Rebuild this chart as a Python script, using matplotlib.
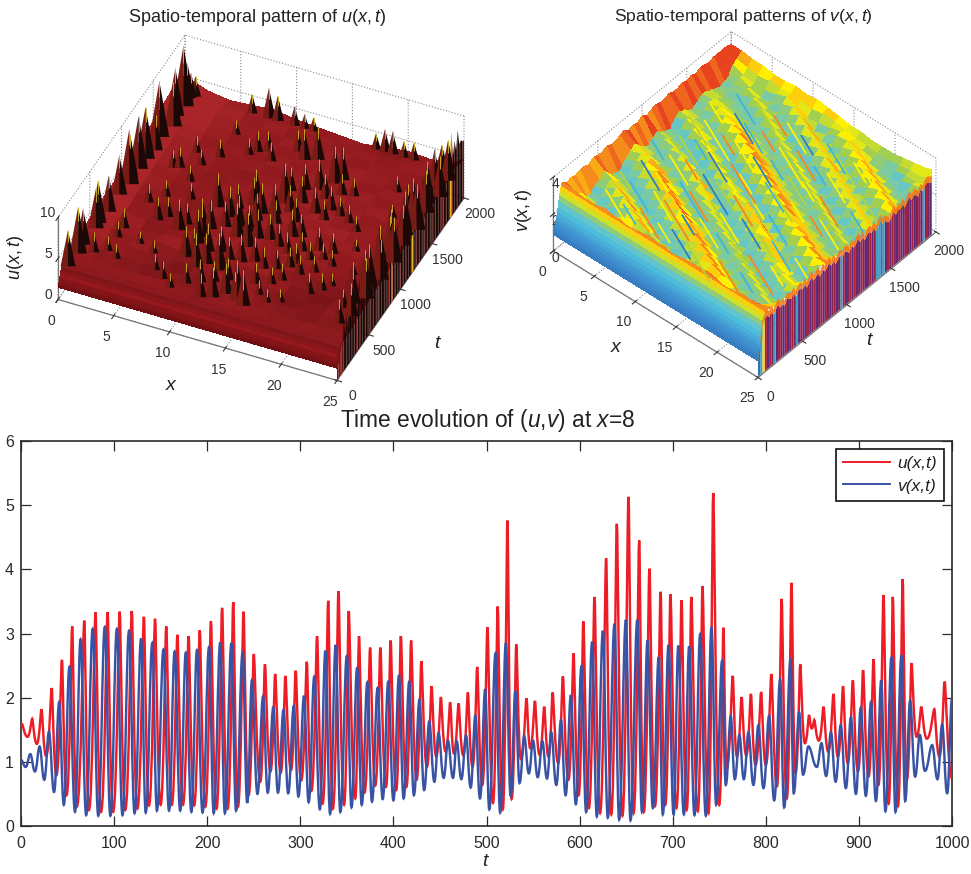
import numpy as np
import matplotlib
matplotlib.use("Agg")
import matplotlib.pyplot as plt
from matplotlib.colors import LinearSegmentedColormap, Normalize
from matplotlib.lines import Line2D
from matplotlib.path import Path
from matplotlib.patches import PathPatch
from mpl_toolkits.mplot3d.art3d import Poly3DCollection, Line3DCollection

plt.rcParams['font.family'] = ['Liberation Sans', 'DejaVu Sans']
plt.rcParams['mathtext.fontset'] = 'custom'
plt.rcParams['mathtext.rm'] = 'Liberation Sans'
plt.rcParams['mathtext.it'] = 'Liberation Sans:italic'
plt.rcParams['mathtext.default'] = 'regular'

# ---------- time series at x=8: extrema ----------
u_peak_t = [1,12,22,33,44,55,68,80,93,106,119,132,144,156,168,180,192,204,216,228,239,250,262,273,284,295,307,318,330,341,352,363,375,386,397,408,419,430,441,451,461,470,480,490,501,512,522.5,532,543,552,562,571,582,593.5,604,616,628.5,640,652.5,664,675,687,697.6,709.5,720,732,743.5,754.5,764.5,774,784,795,806,817,827.6,837,846.5,852,862,872.7,883,893.5,904.5,915.7,926.4,936.4,947,956.5,967,981,992]
u_peak_v = [1.59,1.67,1.82,2.15,2.59,3.11,3.2,3.33,3.33,3.34,3.35,3.26,3.23,3.11,2.98,2.96,3.05,3.19,3.4,3.49,3.34,2.68,2.52,2.37,2.34,2.42,2.56,2.96,3.51,3.66,3.35,2.96,2.78,2.78,2.89,2.96,2.89,2.57,2.18,2.01,1.93,1.91,2.08,2.48,3.1,3.42,4.76,2.83,1.99,1.95,1.86,2.08,2.33,2.69,3.19,3.57,4.17,4.71,5.13,4.45,4.01,3.65,3.61,3.52,3.57,3.74,5.19,3.09,2.34,2.01,2.06,2.09,2.37,3.54,3.79,2.52,1.73,1.65,1.86,2.06,2.18,2.27,2.43,2.6,3.6,3.57,3.85,2.54,1.86,1.82,2.25]
u_low_t = [0,7,17,27,38,49,60,73,86,99,112,125,137.5,150,162,174,186,198,210,222,233,244.5,257,268,279,290,301,312,324,335,347,359,369,380.5,392,403,414,425,436,446,456,465,475,485,495.5,507,517.5,527,537,547,557,566.6,577,588,599,610,622,634,646,658,669,681,692,704,715,727,738.5,750,758,769,779,789,800,812,822.6,832,842,849.4,857,867,877.4,888,899,910.4,921,932,942,951.5,962,973,986.5,1000]
u_low_v = [1.55,1.39,1.28,1.09,0.79,0.48,0.3,0.25,0.22,0.22,0.25,0.27,0.32,0.33,0.33,0.33,0.32,0.3,0.27,0.27,0.3,0.48,0.69,0.85,0.83,0.87,0.71,0.55,0.35,0.27,0.33,0.43,0.52,0.63,0.61,0.56,0.61,0.72,0.92,1.08,1.16,1.13,1.1,0.92,0.64,0.36,0.26,0.42,1.04,1.21,1.11,1.08,0.98,0.72,0.48,0.28,0.2,0.18,0.16,0.2,0.22,0.31,0.33,0.28,0.25,0.23,0.2,0.33,0.9,1.08,1.1,0.95,0.95,0.62,0.43,0.82,1.29,1.52,1.33,1.16,1.08,0.98,0.85,0.77,0.64,0.35,0.31,0.72,1.39,1.36,1.08,0.74]
v_peak_t = [10,20,30,41,52,64,77,90,103,116,129,141,153,165,177,189,202,214,226,238,248,260,271,282,293,304,315,327,338,350,361,372,383,394.5,406,417,428,438.5,448.5,458.6,468,478,488,498.6,509.7,520.8,531,540.5,550,560,569.5,580,590.6,602,613.5,625,637.5,649.7,662,673,685,695.5,706,717.7,729.5,741.7,753,762.4,771.7,781.4,792,803.6,815.4,826.5,835.8,845.8,859.8,870,880.5,891.4,902,913,924,935,945.7,955,965.4,978.7,989.4,1000]
v_peak_v = [1.12,1.24,1.47,1.93,2.48,2.91,3.07,3.1,3.07,3.04,2.92,2.85,2.75,2.72,2.7,2.74,2.79,2.86,2.85,2.7,2.27,2.02,1.85,1.81,1.87,2.03,2.33,2.73,2.82,2.65,2.46,2.24,2.15,2.25,2.34,2.25,1.97,1.63,1.45,1.33,1.32,1.41,1.72,2.13,2.69,2.85,2.1,1.4,1.33,1.32,1.46,1.65,2.04,2.49,2.87,3.04,3.15,3.21,3.21,2.89,2.63,2.82,2.81,2.8,2.99,3.1,2.57,1.71,1.42,1.46,1.57,1.72,2.28,2.59,1.77,1.24,1.29,1.46,1.57,1.69,1.84,1.93,2.27,2.63,2.66,1.95,1.42,1.26,1.58,1.99]
v_low_t = [0,5,15,25,35.5,46,58,70,83,96,109,122,134,146,159,171,183,195,207,219,231,243,254,265,276,287,298,309,321,332,343,355,366,377,388.5,400,411,422,433,444,454,464,473,483,493,503,514.7,526,535.5,545.5,555,565,575,585,596,607,618.5,630.3,642.5,654.7,667,678.7,689.4,701,712,723.4,735.6,746.7,757,766.7,776.4,786.7,797.5,809,819.7,830,840,854.8,864.8,875,886,896.8,907.5,918.3,928.5,939.3,949.7,960.4,971,984.4,994.8]
v_low_v = [1.03,0.92,0.85,0.72,0.53,0.33,0.22,0.17,0.16,0.16,0.17,0.2,0.21,0.24,0.24,0.24,0.22,0.21,0.2,0.2,0.24,0.36,0.5,0.52,0.52,0.51,0.46,0.37,0.26,0.19,0.22,0.29,0.33,0.38,0.42,0.4,0.43,0.48,0.56,0.69,0.75,0.75,0.73,0.6,0.43,0.26,0.21,0.47,0.67,0.82,0.76,0.74,0.64,0.48,0.34,0.22,0.15,0.13,0.1,0.09,0.22,0.28,0.18,0.18,0.18,0.17,0.16,0.33,0.64,0.73,0.73,0.64,0.59,0.4,0.29,0.51,0.8,0.92,0.78,0.69,0.59,0.5,0.47,0.39,0.23,0.22,0.39,0.77,0.86,0.73,0.51]

t_ticks = list(range(0, 1001, 100))
y_ticks = [0, 1, 2, 3, 4, 5, 6]

# ---------- surface u(x,t) ----------
u_x = [0,2,4,6,8,10,12,14,16,18,20,22,24,25]
u_ramp_t = [0,10,20,30,40,50,60,75]
u_ramp_z = [1.5,1.8,2.0,2.4,2.7,3.1,3.4,3.9]
u_body_t = list(range(100, 2001, 100))
u_body = [
 [3.6,3.5,3.5,3.6,3.5,3.4,3.5,3.6,3.5,3.4,3.5,3.4,3.5,3.7],
 [3.7,3.4,3.3,3.2,3.3,3.3,3.6,3.8,3.4,3.3,3.2,3.3,3.4,3.8],
 [3.9,3.6,3.4,3.3,3.1,3.4,3.9,3.6,3.3,3.1,3.2,3.4,3.6,4.0],
 [4.2,3.5,3.7,3.4,3.3,3.6,3.5,3.4,3.6,3.2,3.0,3.3,3.8,4.2],
 [4.3,3.8,3.5,3.9,3.5,3.8,3.7,3.9,3.4,3.3,3.2,3.1,3.5,4.2],
 [4.4,3.9,3.3,3.5,3.8,4.0,3.8,3.5,3.7,3.5,3.4,3.2,3.3,4.4],
 [4.5,3.6,3.4,3.2,3.6,3.7,3.9,3.6,3.9,3.7,3.5,3.3,3.4,4.3],
 [4.4,3.5,3.3,3.5,3.4,3.9,3.6,3.9,3.8,4.0,3.6,3.4,3.3,4.5],
 [4.5,3.7,3.5,3.3,3.7,3.6,3.9,3.7,4.1,3.8,3.9,3.5,3.5,4.4],
 [4.6,3.9,3.4,3.6,3.4,3.8,3.7,4.0,3.8,4.1,3.7,3.6,3.4,4.6],
 [4.6,3.8,3.6,3.5,3.8,3.6,4.0,3.7,4.0,3.7,3.8,3.4,3.5,4.5],
 [4.8,4.0,3.5,3.4,3.6,3.9,3.7,4.1,3.8,3.9,3.6,3.5,3.4,4.6],
 [4.9,4.1,3.7,3.5,3.4,3.7,3.9,3.8,4.1,3.7,3.9,3.5,3.6,4.7],
 [5.0,4.0,3.8,3.6,3.7,3.5,3.8,4.0,3.7,3.9,3.6,3.7,3.4,4.8],
 [5.0,4.2,3.6,3.7,3.5,3.8,3.6,3.9,4.0,3.6,3.8,3.5,3.6,4.9],
 [5.2,4.4,3.9,3.5,3.7,3.6,3.8,3.7,3.9,3.8,3.5,3.7,3.8,5.0],
 [5.4,4.5,4.0,3.8,3.6,3.9,3.7,3.9,3.6,3.7,3.6,3.5,3.7,5.0],
 [5.6,4.8,4.2,3.7,3.9,3.6,3.8,3.6,3.8,3.5,3.7,3.8,3.9,5.2],
 [5.8,4.6,4.0,3.9,3.7,3.9,3.6,3.8,3.5,3.3,3.6,3.9,4.0,5.2],
 [5.0,4.0,3.6,3.8,4.0,3.6,3.4,3.2,3.0,3.4,3.7,3.5,3.8,4.8],
]
# spikes on the surface: position x, time t, tip height
spike_x = [0.3,0.4,0.3,0.4,0.5,0.4,0.6,0.3,0.5,0.8,0.4,0.9,0.5,0.6,0.5,0.7,1.0,0.3,0.5,
 11.8,12.7,13.5,14.7,15.4,8.8,8.8,8.4,9.8,11.4,12.7,10.9,12.0,13.6,13.2,15.5,14.5,16.2,15.1,17.0,15.9,16.3,19.4,18.2,6.7,5.2,4.6,8.6,9.9,10.5,11.8,17.0,15.2,16.4,19.7,20.5,17.2,16.9,13.4,12.4,
 7.6,8.4,6.1,9.9,11.6,10.8,17.2,18.0,18.7,19.7,20.6,23.1,
 8.5,9.3,11.5,3.5,5.0,2.5,1.5,2.5,3.5,
 7,8,9,10,11,12,13,14,15,16,17,18,9,10,11,12,13,14,15,16,18,19,7,8,9,10,11,12,13,14,15,16,17,18,19,20,10,11,12,13,14,15,16,17,18,19,20,13,14,16,17,18,6,5,4,3,4,6,8,10,6,3,2.5,4.5,6,21,22,21,22,21,
 23.5,24,23.5,24.2,23.8,24.3,23.7,24.4,23.6,24.2,23.8,24.4,23.6,24.2,23.8,24.4,23.5,24.2,23.2,23,22.8,23]
spike_t = [105,247,342,526,710,895,1016,1080,1290,1395,1526,1660,1760,1870,1950,1970,1990,580,1180,
 174,204,270,237,207,654,728,1040,980,820,756,1206,1096,1044,1250,966,1298,987,1464,1202,1565,1617,919,910,728,819,762,501,435,493,467,542,440,480,490,556,730,682,1735,1700,
 1985,1985,1985,1985,1985,1985,1985,1985,1985,1985,1985,1985,
 1650,1680,1760,1300,1380,600,300,350,300,
 300,240,180,260,310,350,400,330,280,350,300,340,560,610,640,590,600,640,600,630,640,700,800,860,820,880,920,900,860,880,840,800,860,800,840,800,1080,1150,1020,1130,1190,1110,1240,1310,1280,1240,1180,1380,1430,1400,1480,1500,1040,1200,1000,1280,1480,1500,1600,1600,1750,900,500,500,450,620,780,1000,1400,1650,
 300,400,520,600,720,810,900,1000,1090,1180,1280,1360,1450,1540,1630,1720,1800,1890,1150,800,1500,450]
spike_h = [7.4,8.7,7.4,7.8,7.4,7.8,9.7,8.2,9.3,7.3,9.8,8.4,8.8,10.4,7.3,6.0,5.5,8.2,9.4,
 5.9,6.75,6.75,8.0,7.4,7.2,6.75,7.2,6.75,7.2,7.2,6.75,6.75,5.9,8.0,6.35,6.35,5.9,6.75,5.5,7.6,7.0,5.5,5.9,6.75,5.5,5.9,6.75,7.2,6.75,7.6,5.1,5.5,5.1,5.5,5.1,5.5,5.5,7.0,6.75,
 6.7,6.1,5.4,5.4,4.7,4.8,5.0,5.8,5.8,5.0,5.2,5.9,
 5.5,5.5,5.6,5.5,5.0,5.5,5.5,4.8,4.8,
 5,5.2,4.8,5.5,5.8,5.5,5.8,5.2,5,4.8,4.6,4.6,6,6.5,6.2,5.8,6.4,6,5.6,5.4,5.4,5,5.6,6,6.6,6.2,6.8,6.3,6.6,6.2,5.8,5.6,5.4,5.2,5,5,6,6.5,6.4,6.6,6.2,6,6.2,6,5.4,5.2,5,6,6.2,6,5.6,5.2,5,5,5,5.2,5,5.2,5,5.4,4.8,5.2,5,4.6,4.6,4.6,4.6,4.6,4.8,5,
 6,7,7.5,8,8.2,8,8.4,8.6,8.2,8,8.4,8.6,8,8.2,8.2,8,7.6,8,6.6,6.2,6.4,5.4]
# wall of the surface at x=25
wall_t = list(range(0, 2001, 25))
u_wall_h = [3.4,3.6,3.8,4.0,7.0,4.2,6.5,4.4,9.0,4.5,8.0,5.0,9.5,5.0,8.5,5.2,10.0,5.0,8.7,5.5,9.0,5.5,8.9,5.4,9.2,5.8,9.6,5.5,9.0,5.6,8.5,5.8,10.0,5.8,9.0,6.0,9.5,6.0,8.8,6.0,9.5,6.2,10.0,6.2,9.2,6.4,10.2,6.2,9.6,6.2,10.3,6.4,9.3,6.5,10.0,6.4,9.5,6.6,9.8,6.6,8.8,6.8,8.7,6.6,9.5,6.8,8.5,7.0,9.0,6.8,9.5,7.0,10.3,7.0,8.6,7.2,9.4,7.4,7.6,7.2,7.0]
u_wall_code = "rrrrddbdddbdrdbddbddrdbddrbdddbdrdodbddrdbdbddbydrdbddrdbddrdbdddbrdbddyrddbdddr"

# ---------- surface v(x,t) ----------
v_x = [0,1.3,2.6,3.9,5.3,6.6,7.9,9.2,10.5,11.8,13.2,14.5,15.8,17.1,18.4,19.7,21.1,22.4,23.7,25]
v_ramp_t = [0,8,16,24,32,40,48,56,64,72,80,90]
v_ramp_z = [0.9,1.1,1.25,1.4,1.6,1.75,1.95,2.2,2.5,2.75,3.0,3.2]
v_body_t = list(range(100, 2001, 50))
v_body = [
 [33,33,32,32,33,32,31,32,33,32,31,32,33,33,32,31,32,33,32,33],
 [31,29,27,26,28,29,27,26,27,29,28,26,28,30,29,27,28,29,30,32],
 [32,27,24,23,25,28,31,28,26,23,24,27,30,32,29,26,24,25,28,32],
 [31,24,23,25,28,31,29,25,23,24,27,30,32,29,26,24,25,28,26,31],
 [32,23,25,28,32,28,25,23,24,27,30,32,29,26,24,25,28,26,23,32],
 [32,25,27,31,28,25,23,24,27,30,32,29,26,24,25,28,26,23,24,31],
 [31,26,30,28,25,23,24,27,29,31,30,26,24,25,28,26,23,24,27,31],
 [33,29,27,25,23,24,27,30,33,30,26,24,25,27,26,23,24,27,29,32],
 [32,26,25,23,24,26,30,33,29,27,24,25,28,26,23,24,27,29,27,32],
 [32,24,23,24,27,30,32,29,26,24,25,28,26,23,24,27,29,27,24,31],
 [33,23,24,27,30,33,30,26,24,25,28,26,23,24,27,30,28,24,23,32],
 [32,24,26,29,32,29,26,24,25,28,26,23,24,27,30,31,25,23,26,32],
 [32,26,28,31,30,27,24,25,28,26,23,24,27,29,30,25,23,26,29,33],
 [33,28,30,31,26,24,25,28,27,23,24,27,30,31,27,24,26,29,32,32],
 [34,30,28,26,24,25,28,30,24,24,27,30,33,27,24,26,29,32,30,31],
 [32,27,25,24,25,28,31,25,24,27,30,32,27,23,26,29,32,30,27,32],
 [33,25,24,25,28,30,25,24,27,29,28,26,23,26,29,31,30,27,25,32],
 [32,24,25,28,29,25,23,27,29,27,25,23,25,28,30,30,27,25,24,31],
 [34,25,28,27,24,23,26,29,27,24,23,26,29,32,30,27,25,24,26,30],
 [32,27,26,24,23,26,29,26,24,23,26,29,32,30,27,25,24,26,28,31],
 [33,25,24,23,26,29,26,24,23,26,29,31,31,27,25,24,26,28,25,30],
 [34,24,23,26,29,27,24,23,26,29,32,30,27,25,24,26,28,25,23,30],
 [33,23,26,29,27,24,23,26,29,32,30,27,25,24,26,28,25,23,25,31],
 [33,26,29,28,24,24,26,29,32,30,27,25,24,26,28,25,23,25,28,30],
 [34,28,27,25,24,26,29,32,31,27,25,24,26,28,25,23,25,28,30,29],
 [33,27,25,24,26,29,32,30,27,25,24,26,28,25,23,25,28,30,27,29],
 [33,25,24,26,29,31,30,27,25,24,26,28,25,23,25,28,30,27,24,29],
 [34,24,26,28,30,29,27,25,24,26,29,25,23,25,28,30,27,24,26,30],
 [33,25,28,29,28,26,25,24,26,28,25,23,25,28,30,27,24,26,29,29],
 [34,27,28,27,26,24,24,26,28,25,23,25,28,30,27,24,26,29,31,28],
 [33,27,26,25,24,24,26,28,25,23,25,28,31,27,24,26,29,31,28,28],
 [34,26,25,24,24,26,28,26,23,25,28,30,28,24,26,29,31,28,25,27],
 [34,25,24,24,26,28,26,24,25,28,30,27,24,26,29,31,28,25,24,27],
 [33,24,25,26,28,26,24,25,28,31,27,24,26,29,31,28,25,24,23,28],
 [34,25,26,28,26,24,25,28,31,27,24,26,28,30,28,25,24,23,26,28],
 [34,26,28,26,24,25,28,30,27,24,26,29,30,28,25,24,23,26,28,29],
 [34,29,27,26,27,28,30,28,26,27,28,29,28,26,25,24,26,27,27,30],
 [34,31,30,29,30,29,30,30,29,30,29,28,27,27,26,26,27,28,28,31],
 [33,33,32,32,31,31,32,31,32,31,30,29,29,28,28,28,29,30,31,33],
]
# thin streaks on the v surface: start position, start time, end position, end time, colour code
streak_x0 = [3,5.5,7,9.5,11,13,15.5,17,19.5, 2.5,4,6.5,8,10.5,12,14.5,16,18.5,21, 3,5,7.5,9,11.5,13,15,17.5,19,22, 2,4.5,6,8.5,10,12.5,14,16.5,18,20.5, 3.5,5,7,9.5,11,13.5,15,17,19.5,22, 2.5,4,6.5,8,10.5,12,14.5,16,18.5,21, 3,5.5,7,9,11.5,13,15.5,17,19, 4,6,8.5,10,12,14.5,16,18,20.5]
streak_t0 = [310,280,330,300,320,290,340,300,310, 520,490,530,510,480,540,500,520,490,510, 710,690,730,700,720,680,740,700,710,690, 920,890,930,900,910,880,940,900,920, 1110,1090,1130,1100,1120,1080,1140,1100,1110,1090, 1320,1290,1330,1300,1310,1280,1340,1300,1320,1290, 1510,1490,1530,1500,1520,1480,1540,1500,1510, 1720,1690,1730,1700,1710,1680,1740,1700,1720]
streak_n = [3,2,3,2,3,4,2,3,2, 2,3,3,4,2,3,2,3,4,2, 3,2,4,3,2,3,3,2,3,2, 2,3,2,4,3,3,2,3,2, 3,3,2,3,4,2,3,3,2,2, 2,3,4,2,3,3,2,3,2,3, 3,2,3,3,2,4,3,2,3, 2,3,3,2,3,2,3,3,2]
streak_c = "ycoybgyoc" "gcyobycgoy" "bycogybgcy" "cyobgoycg" "ygcboycgyo" "cgyoybcgyo" "gybcoyocy" "ycgoybcgy"
v_wall_top = [0.9,2.0,2.9,3.2,3.3,3.1,3.3,3.0,3.2,3.4,3.1,3.2,3.0,3.3,3.2,3.1,3.3,3.0,3.2,3.3,3.1,3.3,3.0,3.2,3.4,3.1,3.2,3.3,3.0,3.3,3.1,3.2,3.4,3.1,3.3,3.0,3.2,3.3,3.1,3.3,3.2,3.0,3.3,3.1,3.2,3.4,3.1,3.3,3.0,3.2,3.3,3.1,3.3,3.0,3.2,3.4,3.1,3.2,3.0,2.9,3.1,3.3,3.0,3.2,3.1,3.3,3.0,3.2,3.4,3.1,3.3,3.2,3.0,3.3,3.1,3.3,3.4,3.3,3.2,3.3,3.3]
v_wall_code = "btycpcmtpcmpcpmcmtpcpmcpmcpmcpcmpmcpmtcpmcpcmpcmpmcpcttbtmcpcmpcpmcmpcpmcptcmpcm"

x_ticks3 = [0, 5, 10, 15, 20, 25]
t_ticks3 = [0, 500, 1000, 1500, 2000]
zu_ticks = [0, 5, 10]
zv_ticks = [0, 2, 4]

W, H = 971, 874
fig = plt.figure(figsize=(W/100, H/100), dpi=100)
TXT = '#2a2a2a'

def ftext(px, py, s, **kw):
    kw.setdefault('ha', 'center'); kw.setdefault('va', 'center'); kw.setdefault('color', '#222222')
    fig.text(px/W, 1-py/H, s, **kw)

def fit(ax, w0, w1, p0, p1):
    """scale and move a square 3D axes so two data corners land on two pixel positions"""
    from mpl_toolkits.mplot3d import proj3d
    size = 400.0
    pos = [100.0, 100.0]
    def measure():
        ax.set_position([pos[0]/W, pos[1]/H, size/W, size/H])
        ax.apply_aspect()
        M = ax.get_proj()
        out = []
        for w in (w0, w1):
            a, b, _ = proj3d.proj_transform(w[0], w[1], w[2], M)
            out.append(ax.transData.transform((a, b)))
        return out
    for _ in range(3):
        a, b = measure()
        size *= abs(p1[0]-p0[0]) / abs(b[0]-a[0])
        a, b = measure()
        pos[0] += p0[0]-a[0]
        pos[1] += (H-p0[1])-a[1]
    measure()

def style3d(ax, xl, yl, zl, xt, yt, zt, zpad):
    ax.set_proj_type('ortho')
    ax.set_xlim(*xl); ax.set_ylim(*yl); ax.set_zlim(*zl)
    ax.set_xticks(xt); ax.set_yticks(yt); ax.set_zticks(zt)
    ax.patch.set_alpha(0)
    for a in (ax.xaxis, ax.yaxis, ax.zaxis):
        a.set_pane_color((1, 1, 1, 0))
        a.pane.set_edgecolor((1, 1, 1, 0))
        a._axinfo['grid'].update(color='#8a8a8a', linestyle=':', linewidth=0.8)
        a.line.set_color('#777777'); a.line.set_linewidth(0.9)
    ax.tick_params(labelsize=10, colors='#333333', pad=1)
    ax.zaxis.set_tick_params(pad=zpad)
    ax.zaxis.set_ticks_position('lower')

# ---------- left panel ----------
ax1 = fig.add_axes([0, .5, .4, .4], projection='3d', computed_zorder=False)
ax1.view_init(elev=40.2, azim=-65.8)
ax1.set_box_aspect((1, 1.013, 0.351))
style3d(ax1, (0, 25), (0, 2000), (0, 10), x_ticks3, t_ticks3, zu_ticks, -4)
for lab in ax1.get_zticklabels():
    lab.set_va('bottom')
ut = np.array(u_ramp_t + u_body_t, float)
ub = np.array(u_body, float)
uz = np.vstack([np.tile(np.array(u_ramp_z)[:, None], (1, len(u_x))), ub])
UX, UT = np.meshgrid(u_x, ut)
cm_u = LinearSegmentedColormap.from_list('u', [(0.0, '#701015'), (0.3, '#96181c'), (0.5, '#7a1418'),
        (0.667, '#901a1e'), (1.0, '#aa2529')])
ax1.plot_surface(UX, UT, uz, facecolors=cm_u(Normalize(1.5, 4.5)(uz)), rstride=1, cstride=1, shade=False,
                 linewidth=0, edgecolor='none', antialiased=False, zorder=1)
# x=25 wall
cmap_u = {'r': '#7a1414', 'd': '#190705', 'b': '#3a0d09', 'y': '#e9b422', 'o': '#c75a12'}
polys, cols = [], []
for i in range(len(wall_t)-1):
    polys.append([(25, wall_t[i], 0), (25, wall_t[i+1], 0), (25, wall_t[i+1], u_wall_h[i+1]), (25, wall_t[i], u_wall_h[i])])
    cols.append(cmap_u[u_wall_code[i]])
wc = Poly3DCollection(polys, facecolors=cols, edgecolors='none', zorder=2)
ax1.add_collection3d(wc)
# spikes
hw = 0.075
polys, cols, tips = [], [], []
for sx, st, sh in zip(spike_x, spike_t, spike_h):
    a = hw*sh; b = 0.354*a*100
    c = (sx, st, sh)
    polys.append([(sx-a, st-b, 3.0), (sx, st, 3.0), c]); cols.append('#7a1c16')
    polys.append([(sx+a, st+b, 3.0), (sx, st, 3.0), c]); cols.append('#1c0806')
    tips.append([(sx, st, sh*0.8), c])
sc = Poly3DCollection(polys, facecolors=cols, edgecolors='none', zorder=3)
ax1.add_collection3d(sc)
ax1.add_collection3d(Line3DCollection(tips, colors='#d8c030', linewidths=0.6, zorder=4))
fit(ax1, (0, 0, 0), (25, 0, 0), (58, 299.5), (337, 380))

# ---------- right panel ----------
ax2 = fig.add_axes([.5, .5, .4, .4], projection='3d', computed_zorder=False)
ax2.view_init(elev=45.3, azim=-49)
ax2.set_box_aspect((1, 1, 0.387))
style3d(ax2, (0, 25), (0, 2000), (0, 4), x_ticks3, t_ticks3, zv_ticks, -8.7)
cm_v = LinearSegmentedColormap.from_list('v', [(0.0, '#2f6fb8'), (0.25, '#3f8fd0'), (0.5, '#4fc0dc'),
        (0.62, '#6cc8c0'), (0.72, '#a6cf4a'), (0.82, '#fff200'), (0.92, '#f7941d'), (1.0, '#e8431f')])
vt = np.array(v_ramp_t + v_body_t, float)
vb = np.array(v_body, float)/10.0
vz = np.vstack([np.tile(np.array(v_ramp_z)[:, None], (1, len(v_x))), vb])
VX, VT = np.meshgrid(v_x, vt)
fc = cm_v(Normalize(0.6, 3.4)(vz))
ax2.plot_surface(VX, VT, vz, facecolors=fc, rstride=1, cstride=1, shade=False, linewidth=0.3,
                 edgecolor='none', antialiased=False, zorder=1)
st_col = {'y': '#fff200', 'o': '#f7861d', 'c': '#3fb4dc', 'b': '#2f7ec4', 'g': '#b5d334'}
segs = [[(x0, t0, 2.95), (x0+1.3*n, t0-50*n, 2.95)] for x0, t0, n in zip(streak_x0, streak_t0, streak_n)]
ax2.add_collection3d(Line3DCollection(segs, colors=[st_col[c] for c in streak_c], linewidths=1.3, zorder=1.5))
cmap_v = {'p': '#5b2a7e', 'c': '#a81f3e', 'm': '#7b2458', 't': '#3c9fc6', 'b': '#2f6fb8', 'y': '#f4d21a'}
polys, cols = [], []
for i in range(len(wall_t)-1):
    t0, t1 = wall_t[i], wall_t[i+1]
    z0, z1 = v_wall_top[i], v_wall_top[i+1]
    polys.append([(25, t0, 0.05), (25, t1, 0.05), (25, t1, z1*0.9), (25, t0, z0*0.9)])
    cols.append(cmap_v[v_wall_code[i]])
    polys.append([(25, t0, z0*0.9), (25, t1, z1*0.9), (25, t1, z1), (25, t0, z0)])
    cols.append('#f47a1c')
ax2.add_collection3d(Poly3DCollection(polys, facecolors=cols, edgecolors='none', zorder=2))
fit(ax2, (0, 0, 0), (25, 0, 0), (553.3, 251), (758, 378))

# ---------- panel texts ----------
ftext(257, 17, r'Spatio-temporal pattern of $\mathit{u}(\mathit{x},\mathit{t})$', fontsize=13.0)
ftext(743, 17, r'Spatio-temporal patterns of $\mathit{v}(\mathit{x},\mathit{t})$', fontsize=12.6)
ftext(15, 258, r'$\mathit{u}(\mathit{x},\mathit{t})$', fontsize=13, rotation=90)
ftext(172, 385, r'$\mathit{x}$', fontsize=14)
ftext(438, 343, r'$\mathit{t}$', fontsize=14)
ftext(523, 210, r'$\mathit{v}(\mathit{x},\mathit{t})$', fontsize=13, rotation=90)
ftext(617, 347, r'$\mathit{x}$', fontsize=14)
ftext(870, 340, r'$\mathit{t}$', fontsize=14)
ftext(488, 420, r'Time evolution of ($\mathit{u}$,$\mathit{v}$) at $\mathit{x}$=8', fontsize=16.4)

# ---------- time series ----------
ax3 = fig.add_axes([21/W, 1-826/H, 931/W, 385/H])
ax3.set_xlim(0, 1000); ax3.set_ylim(0, 6)
ax3.set_xticks(t_ticks); ax3.set_yticks(y_ticks)
ax3.tick_params(direction='in', length=7, width=0.9, top=True, right=True, labelsize=11.5,
                colors=TXT, pad=7.5)
ax3.tick_params(axis='y', pad=5)
for s in ax3.spines.values():
    s.set_linewidth(1.2); s.set_color('#2a2a2a')
ax3.set_xlabel(r'$\mathit{t}$', fontsize=14, labelpad=1.5, color='#222222')

def curve(ts, vs, a, b):
    """smooth path through the extrema: flat tangents, tight at peaks, wide at troughs"""
    verts = [(ts[0], vs[0])]; codes = [Path.MOVETO]
    for i in range(len(ts)-1):
        dt = ts[i+1]-ts[i]
        h0 = a if vs[i] > vs[i+1] else b
        h1 = b if vs[i] > vs[i+1] else a
        verts += [(ts[i]+h0*dt, vs[i]), (ts[i+1]-h1*dt, vs[i+1]), (ts[i+1], vs[i+1])]
        codes += [Path.CURVE4]*3
    return Path(verts, codes)

def series(pk_t, pk_v, lo_t, lo_v):
    t = np.array(pk_t + lo_t, float); v = np.array(pk_v + lo_v, float)
    o = np.argsort(t)
    return t[o], v[o]

ut_s, uv_s = series(u_peak_t, u_peak_v, u_low_t, u_low_v)
vt_s, vv_s = series(v_peak_t, v_peak_v, v_low_t, v_low_v)
RED = '#ee1c25'; BLUE = '#3953a4'
ax3.add_patch(PathPatch(curve(ut_s, uv_s, 0.2, 0.55), fill=False, edgecolor=RED, lw=1.75, zorder=3))
ax3.add_patch(PathPatch(curve(vt_s, vv_s, 0.38, 0.45), fill=False, edgecolor=BLUE, lw=1.75, zorder=4))
h = [Line2D([], [], color=RED, lw=1.4), Line2D([], [], color=BLUE, lw=1.4)]
leg = ax3.legend(h, ['u(x,t)', 'v(x,t)'], loc='upper right',
                 bbox_to_anchor=((944-21)/931, 1-(449-441)/385), borderaxespad=0, fancybox=False,
                 framealpha=1, edgecolor='#111111', prop={'family': 'Liberation Sans', 'style': 'italic', 'size': 12.5},
                 handlelength=2.7, handletextpad=0.4, labelspacing=0.4, borderpad=0.42)
leg.get_frame().set_linewidth(1.2)
for t_ in leg.get_texts():
    t_.set_color('#222222')

fig.savefig('out.png', dpi=100)
